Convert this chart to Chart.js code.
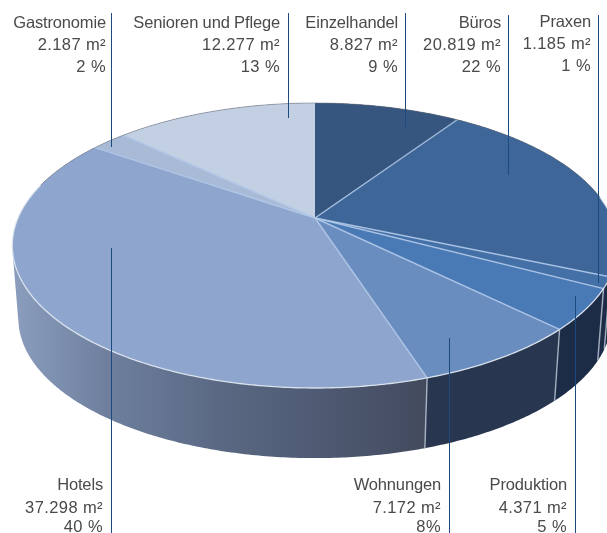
<!DOCTYPE html>
<html><head><meta charset="utf-8">
<style>html,body{margin:0;padding:0;background:#fff}canvas{display:block}</style>
<script src="https://cdn.jsdelivr.net/npm/chart.js@4"></script>
</head><body>
<canvas id="c" width="607" height="533"></canvas>
<script>
const categories = ["Einzelhandel","Büros","Praxen","Produktion","Wohnungen","Hotels","Gastronomie","Senioren und Pflege"];
const areaValues = [8827,20819,1185,4371,7172,37298,2187,12277];
const areaLabels = ["8.827 m²","20.819 m²","1.185 m²","4.371 m²","7.172 m²","37.298 m²","2.187 m²","12.277 m²"];
const shareLabels = ["9 %","22 %","1 %","5 %","8%","40 %","2 %","13 %"];
const topColors = ["#36567f","#3e6698","#4470a8","#4a7ab5","#6a8dc0","#8ea6cd","#a9bad7","#c3cfe2"];
const wallColors = ["#1c2c47","#1c2c47","#1c2c47","#1c2c47","#29364f","hotels","#6d7f9d","#6d7f9d"];

// label placement: [right edge of text, baselines of the three lines, leader x, leader y0, leader y1]
const labelLayout = [
  [398,[28,50,72],405,13,127],
  [501,[28,50,72],508,15,175],
  [591,[27,49,71],598,15,283],
  [567,[490,513,532],575,296,533],
  [441,[490,513,532],449,338,533],
  [103,[490,513,532],111,248,533],
  [106,[28,50,72],111,13,147],
  [280,[28,50,72],288,13,118]
];

// perspective view of the disc
const view = {cx:315, cy:218, m:297, k:137.2, c:-0.193, wallScale:0.98, wallDrop:73.5};
function rim(a, s, d){
  const den = 1 + view.c*Math.sin(a);
  return [view.cx + s*view.m*Math.cos(a)/den, view.cy + d + s*view.k*Math.sin(a)/den];
}
function trace(ctx, a0, a1, s, d, first){
  const n = Math.max(2, Math.ceil(Math.abs(a1-a0)/0.01));
  for(let i=0;i<=n;i++){
    const p = rim(a0+(a1-a0)*i/n, s, d);
    if(i===0 && first) ctx.moveTo(p[0],p[1]); else ctx.lineTo(p[0],p[1]);
  }
}
// one path of same-wound quads, so the wall's outline is the hull of both rims
function traceWall(ctx, a0, a1){
  const n = Math.max(2, Math.ceil(Math.abs(a1-a0)/0.01));
  for(let i=0;i<n;i++){
    const u=a0+(a1-a0)*i/n, v=a0+(a1-a0)*(i+1)/n;
    let q=[rim(u,1,0),rim(v,1,0),rim(v,view.wallScale,view.wallDrop),rim(u,view.wallScale,view.wallDrop)];
    let area=0;
    q.forEach((p,j)=>{const r=q[(j+1)%4];area+=p[0]*r[1]-r[0]*p[1];});
    if(area<0) q.reverse();
    ctx.moveTo(q[0][0],q[0][1]);
    for(let j=1;j<4;j++) ctx.lineTo(q[j][0],q[j][1]);
    ctx.closePath();
  }
}

const disc3d = {
  id:'disc3d',
  beforeDatasetDraw(chart, args){
    const ctx = chart.ctx, arcs = args.meta.data;
    const hotelsGrad = ctx.createLinearGradient(15,0,425,0);
    hotelsGrad.addColorStop(0,'#8a9dbc');
    hotelsGrad.addColorStop(0.23,'#6d7f9d');
    hotelsGrad.addColorStop(0.5,'#5a6883');
    hotelsGrad.addColorStop(0.75,'#4e5a72');
    hotelsGrad.addColorStop(1,'#434a5e');
    ctx.save();
    // walls
    arcs.forEach((arc,i)=>{
      ctx.beginPath();
      traceWall(ctx,arc.startAngle,arc.endAngle);
      ctx.fillStyle = wallColors[i]==='hotels' ? hotelsGrad : wallColors[i];
      ctx.fill();
    });
    // wall seams on the visible front
    arcs.forEach(arc=>{
      const a=arc.startAngle;
      if(Math.sin(a)>0.05 || (Math.cos(a)>0 && Math.sin(a)>-0.1)){
        const p=rim(a,1,0), q=rim(a,view.wallScale,view.wallDrop);
        ctx.beginPath();ctx.moveTo(p[0],p[1]);ctx.lineTo(q[0],q[1]);
        ctx.strokeStyle='rgba(190,200,215,0.75)';ctx.lineWidth=1.5;ctx.stroke();
      }
    });
    // top face
    arcs.forEach((arc,i)=>{
      ctx.beginPath();
      ctx.moveTo(view.cx,view.cy);
      trace(ctx,arc.startAngle,arc.endAngle,1,0,false);
      ctx.closePath();
      ctx.fillStyle=topColors[i];ctx.fill();
    });
    // slice seams
    arcs.forEach((arc,i)=>{
      if(i===0) return;
      const p=rim(arc.startAngle,1,0);
      ctx.beginPath();ctx.moveTo(view.cx,view.cy);ctx.lineTo(p[0],p[1]);
      ctx.strokeStyle='rgba(176,200,232,0.9)';ctx.lineWidth=1.4;ctx.stroke();
    });
    // rim highlights
    ctx.beginPath();trace(ctx,Math.PI*1.08,Math.PI*-0.05,1,0,true);
    ctx.strokeStyle='rgba(225,232,242,0.9)';ctx.lineWidth=1.3;ctx.stroke();
    ctx.beginPath();trace(ctx,Math.PI*1.08,Math.PI*1.95,1,0,true);
    ctx.strokeStyle='rgba(110,115,125,0.55)';ctx.lineWidth=1;ctx.stroke();
    ctx.restore();
    return false;
  },
  afterDatasetsDraw(chart){
    const ctx=chart.ctx;
    ctx.save();
    ctx.strokeStyle='#1d4a7e';ctx.lineWidth=1;
    labelLayout.forEach(l=>{
      ctx.beginPath();ctx.moveTo(l[2]+0.5,l[3]);ctx.lineTo(l[2]+0.5,l[4]);ctx.stroke();
    });
    ctx.fillStyle='#4a4a4a';
    ctx.font='16.5px "Liberation Sans Narrow","Liberation Sans"';
    ctx.textAlign='right';ctx.textBaseline='alphabetic';
    categories.forEach((name,i)=>{
      const l=labelLayout[i];
      ctx.letterSpacing='-0.15px';
      ctx.fillText(name,l[0],l[1][0]);
      ctx.letterSpacing='0.4px';
      ctx.fillText(areaLabels[i],l[0],l[1][1]);
      ctx.fillText(shareLabels[i],l[0],l[1][2]);
    });
    ctx.restore();
  }
};

new Chart(document.getElementById('c'),{
  type:'pie',
  data:{labels:categories,datasets:[{data:areaValues,backgroundColor:topColors,borderWidth:0}]},
  options:{responsive:false,animation:false,
    plugins:{legend:{display:false},tooltip:{enabled:false}}},
  plugins:[disc3d]
});
</script>
</body></html>
